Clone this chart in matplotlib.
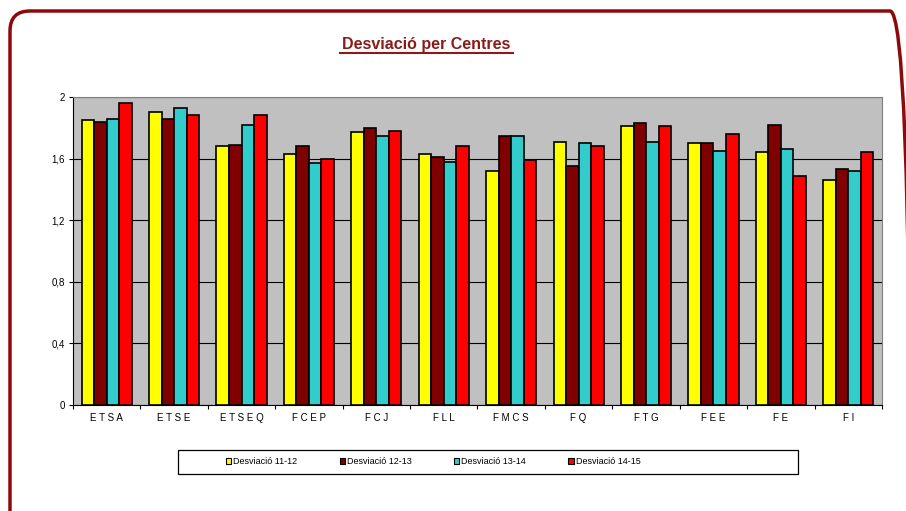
import matplotlib
matplotlib.use('Agg')
import matplotlib.pyplot as plt
import matplotlib.patches as mpatches
from matplotlib.transforms import IdentityTransform
import numpy as np

plt.rcParams['font.family'] = ['Liberation Sans', 'DejaVu Sans']

# data
centres = ['ETSA', 'ETSE', 'ETSEQ', 'FCEP', 'FCJ', 'FLL', 'FMCS', 'FQ', 'FTG', 'FEE', 'FE', 'FI']
desv_11_12 = [1.85, 1.90, 1.68, 1.63, 1.77, 1.63, 1.52, 1.71, 1.81, 1.70, 1.64, 1.46]
desv_12_13 = [1.84, 1.86, 1.69, 1.68, 1.80, 1.61, 1.75, 1.55, 1.83, 1.70, 1.82, 1.53]
desv_13_14 = [1.86, 1.93, 1.82, 1.57, 1.75, 1.58, 1.75, 1.70, 1.71, 1.65, 1.66, 1.52]
desv_14_15 = [1.96, 1.88, 1.88, 1.60, 1.78, 1.68, 1.59, 1.68, 1.81, 1.76, 1.49, 1.64]
series_labels = ['Desviació 11-12', 'Desviació 12-13', 'Desviació 13-14', 'Desviació 14-15']
colors = ['#FFFF00', '#800000', '#33CCCC', '#FF0000']
yticks = [0, 0.4, 0.8, 1.2, 1.6, 2]
ytick_labels = ['0', '0,4', '0,8', '1,2', '1,6', '2']

W, H = 906, 511
fig = plt.figure(figsize=(W / 100, H / 100), dpi=100)

# rounded dark-red frame (pixel coords), cut off at right and bottom
frame = mpatches.FancyBboxPatch((10, -30), 900, H - 11 + 30,
                                boxstyle='round,pad=0,rounding_size=20',
                                transform=IdentityTransform(), fill=False,
                                edgecolor='#8B0A0A', linewidth=2.5, zorder=0)
fig.patches.append(frame)

ax = fig.add_axes([73 / W, 1 - 405 / H, (882 - 73) / W, (405 - 97) / H])
ax.set_facecolor('#C0C0C0')

x = np.arange(len(centres))
bw = 0.186
all_series = [desv_11_12, desv_12_13, desv_13_14, desv_14_15]
for i, (vals, lab, c) in enumerate(zip(all_series, series_labels, colors)):
    ax.bar(x + (i - 1.5) * bw, vals, width=bw, color=c, edgecolor='black',
           linewidth=1.2, label=lab, zorder=3)

ax.set_xlim(-0.5, len(centres) - 0.5)
ax.set_ylim(0, 2)
ax.set_yticks(yticks)
ax.set_yticklabels(ytick_labels, fontsize=7)
ax.yaxis.grid(True, color='black', linewidth=0.8, zorder=1)
ax.set_axisbelow(True)

ax.set_xticks(np.arange(len(centres) + 1) - 0.5)
ax.set_xticklabels([])
ax.set_xticks(x, minor=True)
ax.set_xticklabels([' '.join(c) for c in centres], minor=True, fontsize=7)
ax.tick_params(axis='x', which='minor', length=0, pad=6)
ax.tick_params(axis='x', which='major', length=3, width=0.8, direction='out')
ax.tick_params(axis='y', length=3, width=0.8, direction='out', pad=3)

for s in ['top', 'right']:
    ax.spines[s].set_color('#808080')
    ax.spines[s].set_linewidth(0.8)
ax.spines['left'].set_color('black')
ax.spines['bottom'].set_color('black')

fig.text(426 / W, 1 - 45 / H, 'Desviació per Centres', ha='center', va='center',
         fontsize=11.5, fontweight='bold', color='#8B1A1A')
# underline
fig.add_artist(plt.Line2D([340 / W, 513 / W], [1 - 53 / H, 1 - 53 / H],
                          transform=fig.transFigure, color='#8B1A1A', linewidth=1.5))

# legend box
fig.patches.append(mpatches.Rectangle((178 / W, 1 - 474 / H), 620 / W, 24 / H,
                                      transform=fig.transFigure, fill=False,
                                      edgecolor='black', linewidth=0.9))
handles = [mpatches.Patch(facecolor=c, edgecolor='black', linewidth=0.8, label=l)
           for c, l in zip(colors, series_labels)]
leg = fig.legend(handles=handles, loc='center', ncol=4,
                 bbox_to_anchor=(433 / W, 1 - 462 / H), fontsize=6.5,
                 handlelength=0.6, handleheight=0.6, handletextpad=0.2,
                 columnspacing=4.7, frameon=False)

fig.savefig('out.png', dpi=100)
